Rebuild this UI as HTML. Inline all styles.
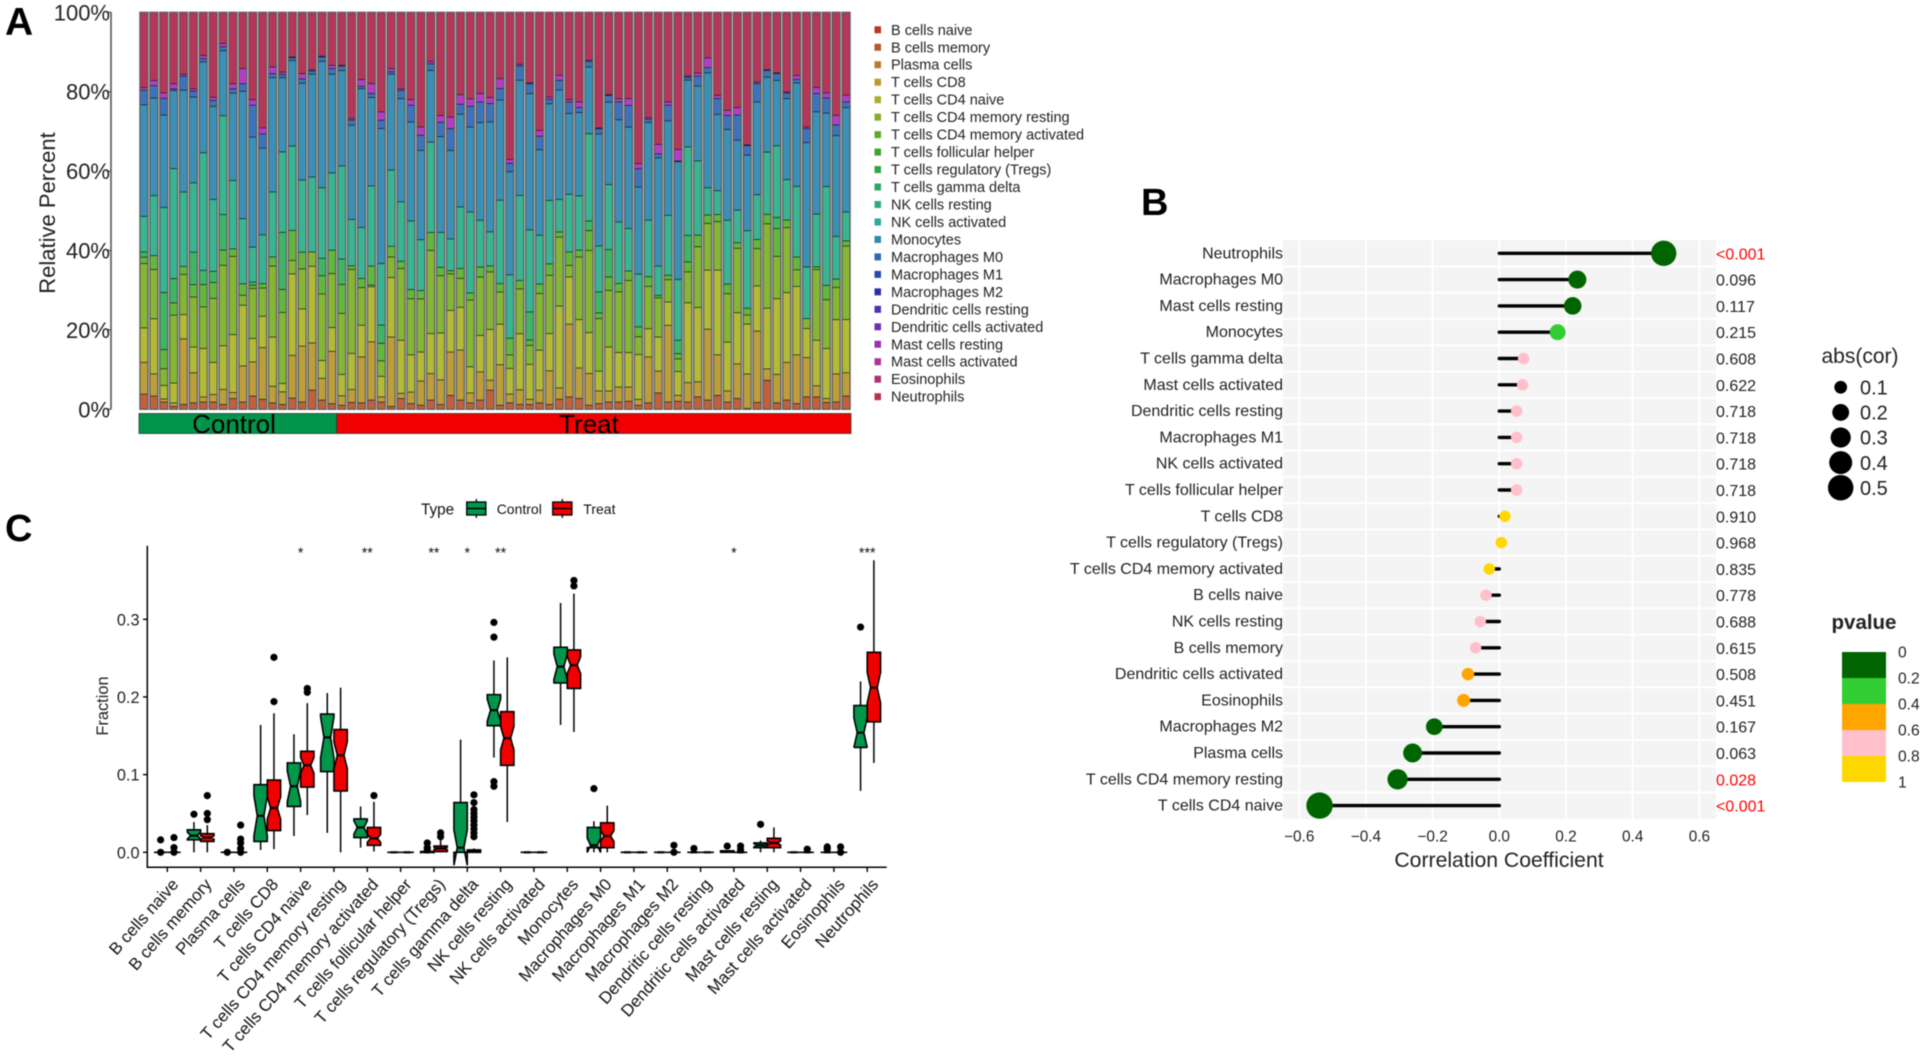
<!DOCTYPE html>
<html lang="en">
<head>
<meta charset="utf-8">
<title>Immune cell infiltration panels</title>
<style>
html,body{margin:0;padding:0;background:#fff;}
svg{display:block;font-family:"Liberation Sans",sans-serif;filter:blur(0.4px);}
</style>
</head>
<body>
<svg id="fig" xmlns="http://www.w3.org/2000/svg" width="1925" height="1057" viewBox="0 0 1925 1057">
  <rect width="1925" height="1057" fill="#fff"/>
  <text x="5" y="35" font-size="39" font-weight="bold">A</text>
  <text x="1141" y="215" font-size="38" font-weight="bold">B</text>
  <text x="5" y="541" font-size="38" font-weight="bold">C</text>
  <g id="panelA"></g>
  <g id="panelB"></g>
  <g id="panelC"></g>
</svg>
<script>
/* ---------- Panel A data: percent per sample, bottom to top ---------- */
const legendLabels = ["B cells naive","B cells memory","Plasma cells","T cells CD8","T cells CD4 naive","T cells CD4 memory resting","T cells CD4 memory activated","T cells follicular helper","T cells regulatory (Tregs)","T cells gamma delta","NK cells resting","NK cells activated","Monocytes","Macrophages M0","Macrophages M1","Macrophages M2","Dendritic cells resting","Dendritic cells activated","Mast cells resting","Mast cells activated","Eosinophils","Neutrophils"];
const percentTicks = [0,20,40,60,80,100];
const groupLabels = ["Control","Treat"];
const groupSizes = [20,52];
const bMemory = [3.9,3.4,1.9,0.8,1.3,1.7,1.9,1.9,1.3,2.8,1.9,3.4,2.6,1.7,1.3,2.9,1.9,4.9,2.4,1.5,1.1,1.8,1.7,2.4,1.9,0.8,2.8,1.5,1.1,2.4,1.3,3.6,2.4,1.7,2.4,4.9,1.1,1.7,1.3,1.3,1.7,1.3,2.6,3.2,2.8,1.1,1.5,1.9,1.9,2.1,1.1,1.7,4.2,1.9,2.1,1.9,3.2,2.4,3.6,1.9,2.8,0.3,1.8,7.4,1.7,2.4,1.5,3.2,3.2,1.8,1.9,3.4];
const tCD8 = [8.0,5.6,0.8,0.9,16.5,7.6,1.3,1.9,3.8,1.5,9.1,8.6,13.0,4.2,3.2,10.8,14.1,11.9,5.5,13.2,2.4,3.3,11.6,14.7,1.3,17.5,1.3,2.9,6.1,6.7,6.2,10.9,12.6,2.5,7.1,2.5,10.2,2.2,3.7,1.3,3.2,8.5,2.9,18.3,7.7,8.0,3.2,2.8,3.8,3.6,1.5,11.6,5.5,19.3,1.5,4.9,3.8,17.9,10.2,2.8,8.7,8.7,18.0,2.9,7.2,9.5,12.3,9.9,2.8,1.0,7.1,5.9];
const cd4Naive = [8.7,13.9,3.4,5.0,6.1,6.5,12.2,8.1,11.0,14.6,15.3,5.9,7.9,12.4,2.1,20.6,9.4,19.3,4.5,6.0,5.4,9.1,8.0,13.9,5.2,15.0,13.4,9.4,7.3,10.1,11.8,10.5,10.8,6.6,9.2,12.8,10.2,6.5,14.1,8.8,10.1,9.4,20.6,11.9,12.2,10.3,5.0,11.1,8.7,8.7,11.3,7.1,8.6,5.9,6.0,20.1,18.7,14.9,21.3,12.3,12.9,12.6,11.4,15.3,19.1,17.6,17.2,7.3,11.5,12.6,13.7,13.4];
const cd4MemResting = [16.2,12.4,4.2,17.1,10.1,12.6,10.5,16.1,20.3,19.7,2.5,12.6,7.1,17.9,17.9,3.4,10.1,3.6,16.8,13.6,15.4,21.2,9.5,0.4,3.9,5.2,18.1,14.1,13.4,21.0,14.4,9.2,7.3,16.8,14.7,14.5,8.1,3.4,11.3,4.8,14.3,14.7,17.4,2.9,15.8,20.7,13.3,14.3,15.3,18.2,4.5,10.7,9.9,5.6,3.2,7.8,15.3,11.8,12.2,12.2,16.2,2.3,9.4,21.3,10.7,16.4,4.2,2.5,17.8,12.3,8.1,18.5];
const cd4MemActivated = [1.6,3.5,4.8,3.1,2.0,3.1,5.6,4.0,3.8,1.9,2.9,0.8,1.1,2.3,5.8,7.6,4.2,0,4.6,5.9,7.3,0.9,2.3,4.8,4.4,2.7,1.8,2.3,2.1,4.5,2.1,0.8,2.5,1.8,2.5,1.5,2.1,4.2,2.1,1.3,2.4,2.9,1.3,3.4,1.7,5.0,1.4,3.4,2.1,2.4,2.5,2.4,0.6,1.1,1.3,2.5,2.9,2.1,1.8,2.4,1.4,1.7,2.3,2.4,7.0,1.9,3.2,0,0.7,3.6,2.1,1.3];
const gammaDelta = [1.3,0,14.4,6.1,0,8.2,3.6,2.8,9.0,0,0,0.8,0,0,14.4,0,0,0,4.4,0,6.4,0,0,0,4.6,0,0,0,0,0,0,0,0,0,0,0,0,0,0,7.1,0,0,0,0,0,2.4,5.3,6.9,0,0,0,0,0,0,3.4,6.7,0,0,0,0,0,0,0,0,2.8,0,0,0,0,0,0,0];
const nkResting = [9.0,15.1,21.4,27.7,18.7,17.5,29.6,18.1,24.9,17.2,16.4,8.8,12.3,16.4,20.3,21.3,18.2,18.9,17.8,19.5,23.5,11.7,12.9,20.2,15.5,19.2,15.0,17.3,12.8,22.8,8.8,8.0,15.5,20.4,11.8,8.6,21.0,16.0,21.4,20.7,12.3,16.0,8.2,14.5,13.7,22.0,11.6,16.4,15.5,10.7,13.3,14.3,7.4,15.1,15.3,22.3,18.7,6.9,6.0,16.1,8.2,19.6,11.3,15.7,18.1,10.2,17.8,13.0,13.3,24.9,10.8,7.3];
const monocytes = [28.1,24.6,23.3,19.7,25.6,21.6,22.9,23.4,16.4,22.0,32.1,27.7,21.8,28.8,18.7,21.6,24.4,25.9,31.9,24.9,24.1,23.8,35.0,22.3,34.0,24.2,26.0,24.9,22.5,18.1,24.1,22.3,23.4,21.4,24.6,27.7,25.2,26.0,29.0,34.3,21.6,24.4,27.6,20.3,21.0,16.8,28.3,20.8,25.8,25.6,22.0,24.6,27.3,23.8,29.7,16.8,18.8,29.0,19.2,22.9,17.6,19.1,23.4,18.9,16.5,20.4,26.0,31.3,25.8,18.5,25.4,26.3];
const macrophagesM0 = [3.6,3.1,4.2,0.4,3.5,1.5,0.8,1.5,1.0,1.1,1.9,8.0,3.6,1.0,0.8,0.7,1.1,0.8,1.1,1.4,1.1,1.3,0.6,1.0,2.1,0.6,2.1,4.2,3.8,1.7,3.6,5.5,2.5,5.2,5.2,4.6,2.9,2.1,3.6,2.5,3.4,1.1,2.4,2.9,1.3,1.4,1.3,1.7,4.5,5.5,4.6,0.8,1.0,3.9,0.2,0.7,2.5,1.3,4.0,3.5,6.3,2.4,4.6,1.7,1.7,1.4,0.9,3.5,4.6,3.8,2.7,1.4];
const mastResting = [0.7,1.3,1.4,1.3,0.5,0.6,0.8,0.8,0.8,1.3,3.8,1.4,1.5,1.7,0.6,0.2,1.3,0.3,0.2,0.8,0.2,0.4,1.7,2.5,2.1,0.8,0.4,1.4,2.1,0.6,1.7,2.9,2.4,1.9,2.1,1.5,2.5,1.0,0.4,0.2,1.5,0.6,1.3,0.6,1.4,0.3,0.2,0.2,0.8,1.7,1.3,0.4,2.4,0.8,2.9,0.3,0.8,2.5,0.8,1.3,1.9,0.2,0.4,0.2,0.2,0.3,1.0,0.4,1.5,1.3,2.4,1.7];
const neutrophils = [18.9,17.1,20.2,17.9,15.5,19.2,10.8,21.3,7.8,17.9,14.1,21.9,29.0,13.7,15.0,11.2,15.4,14.4,11.0,13.3,13.3,26.7,16.9,17.9,25.0,14.1,19.2,21.9,28.8,12.3,25.9,26.3,20.7,21.7,20.4,21.4,16.6,37.0,13.0,17.7,29.7,21.3,15.8,21.9,22.5,12.0,29.1,20.7,21.7,21.7,38.1,26.5,33.2,22.5,34.5,16.0,15.2,11.4,20.8,24.6,23.9,33.4,17.5,14.4,15.2,20.0,15.8,28.8,18.9,20.2,25.9,20.8];

/* ---------- Panel B data ---------- */
const corLabels = ["Neutrophils","Macrophages M0","Mast cells resting","Monocytes","T cells gamma delta","Mast cells activated","Dendritic cells resting","Macrophages M1","NK cells activated","T cells follicular helper","T cells CD8","T cells regulatory (Tregs)","T cells CD4 memory activated","B cells naive","NK cells resting","B cells memory","Dendritic cells activated","Eosinophils","Macrophages M2","Plasma cells","T cells CD4 memory resting","T cells CD4 naive"];
const corValues = [0.493,0.234,0.220,0.175,0.073,0.070,0.052,0.052,0.052,0.052,0.017,0.006,-0.030,-0.040,-0.057,-0.071,-0.094,-0.107,-0.195,-0.260,-0.305,-0.539];
const corPValues = ["<0.001","0.096","0.117","0.215","0.608","0.622","0.718","0.718","0.718","0.718","0.910","0.968","0.835","0.778","0.688","0.615","0.508","0.451","0.167","0.063","0.028","<0.001"];
const corTicks = [-0.6,-0.4,-0.2,0,0.2,0.4,0.6];
const sizeLegendValues = [0.1,0.2,0.3,0.4,0.5];
const pBinLabels = ["0","0.2","0.4","0.6","0.8","1"];

/* ---------- Panel C data: fractions, categories follow legendLabels ---------- */
const fractionTicks = [0,0.1,0.2,0.3];
const controlLow = [0,0,0,0.003,0.021,0.025,0.006,0,0,0,0.122,0,0.164,0,0,0,0,0,0,0,0,0.079];
const controlQ1 = [0,0.016,0,0.014,0.059,0.104,0.019,0,0,0,0.163,0,0.218,0.006,0,0,0,0,0.006,0,0,0.135];
const controlMedian = [0,0.0215,0,0.047,0.085,0.148,0.032,0,0,0.006,0.183,0,0.239,0.009,0,0,0,0.001,0.009,0,0,0.154];
const controlQ3 = [0,0.029,0,0.087,0.115,0.178,0.043,0,0.001,0.064,0.203,0,0.264,0.032,0,0,0,0.002,0.012,0,0,0.189];
const controlHigh = [0,0.039,0,0.164,0.152,0.205,0.059,0,0.001,0.145,0.247,0,0.321,0.040,0,0,0,0.002,0.015,0,0,0.22];
const controlOutliers = [[0.016,0],[0.049],[0],[],[],[],[],[],[0.012,0.006,0.003],[],[0.296,0.277,0.091,0.085],[],[],[0.082],[],[],[0.005],[0.008],[0.036],[],[0.007,0.004],[0.29]];
const treatLow = [0,0,0,0.004,0.048,0,0.001,0,0,0,0.039,0,0.155,0,0,0,0,0,0,0,0,0.115];
const treatQ1 = [0,0.014,0,0.028,0.084,0.079,0.009,0,0.001,0,0.112,0,0.211,0.006,0,0,0,0,0.006,0,0,0.168];
const treatMedian = [0,0.019,0,0.057,0.112,0.125,0.018,0,0.005,0.002,0.147,0,0.241,0.021,0,0,0,0,0.012,0,0,0.212];
const treatQ3 = [0,0.024,0,0.093,0.13,0.158,0.032,0,0.008,0.003,0.181,0,0.2605,0.038,0,0,0,0,0.018,0,0,0.2575];
const treatHigh = [0,0.035,0,0.179,0.192,0.212,0.065,0,0.018,0.005,0.251,0,0.333,0.06,0,0,0,0,0.032,0,0,0.376];
const treatOutliers = [[0.019,0.006,0],[0.073,0.05,0.042],[0.035,0.017,0.012,0.005,0],[0.251,0.194],[0.211,0.206],[],[0.073],[],[0.025,0.02],[0.074,0.064,0.055,0.05,0.045,0.04,0.035,0.03,0.025,0.02],[],[],[0.35,0.343],[],[],[0.009,0],[],[0.008,0.003],[],[0.004],[0.007,0],[]];
const significance = ["","","","","*","","**","","**","*","**","","","","","","","*","","","",  "***"];

const NS = "http://www.w3.org/2000/svg";
function add(parent, tag, geom, text) {
  const el = document.createElementNS(NS, tag);
  for (const k in geom) el.setAttribute(k, geom[k]);
  if (text !== undefined) el.textContent = text;
  parent.appendChild(el);
  return el;
}
const slug = s => s.toLowerCase().replace(/[^a-z0-9]+/g, '-').replace(/^-|-$/g, '');

/* ================= PANEL A ================= */
(function () {
  const root = document.getElementById('panelA');
  const stack = [
    [bMemory, '#c2603c'], [tCD8, '#bd9e38'], [cd4Naive, '#b3bb35'], [cd4MemResting, '#85b733'],
    [cd4MemActivated, '#62b83c'], [gammaDelta, '#3fb566'], [nkResting, '#38b592'], [monocytes, '#3a90b6'],
    [macrophagesM0, '#3d73bd'], [mastResting, '#b63cc8'], [neutrophils, '#b8355a']
  ];
  const stackNames = ['b-memory','t-cd8','cd4-naive','cd4-memory-resting','cd4-memory-activated','gamma-delta','nk-resting','monocytes','macrophages-m0','mast-resting','neutrophils'];
  const legendColors = ['#b8342c','#b8552c','#b87a2c','#b89d2c','#a9b12c','#84ae2c','#5eaa2c','#3ba52c','#2ca83f','#2ca860','#2ca988','#2ca8a0','#2c8cb0','#2c68b0','#2c48b0','#2c30a8','#5030b0','#7030b0','#9c30b0','#b030a0','#b03078','#b83050'];
  const nBars = bMemory.length;
  const x0 = 139, x1 = 851, pitch = (x1 - x0) / nBars, barW = 8;
  const yA = v => 409.3 - v * 3.97;
  const xA = i => x0 + (i + 0.5) * pitch;

  for (let i = 0; i < nBars; i++) {
    const total = stack.reduce((s, c) => s + c[0][i], 0);
    let cum = 0;
    const bar = add(root, 'g', {});
    
    
    stack.forEach((c, k) => {
      const v = c[0][i] / total * 100;
      const top = yA(cum + v), bottom = yA(cum);
      cum += v;
      if (v <= 0) return;
      const seg = add(bar, 'rect', { x: xA(i) - barW / 2, y: top, width: barW, height: bottom - top, fill: c[1] });
      
      
      if (k < stack.length - 1) {
        const sep = add(bar, 'line', { x1: xA(i) - barW / 2, x2: xA(i) + barW / 2, y1: top, y2: top, stroke: '#111a14', 'stroke-width': 1.4 });
        
        
      }
    });
    const frame = add(bar, 'rect', { x: xA(i) - barW / 2, y: yA(100), width: barW, height: yA(0) - yA(100), fill: 'none', stroke: '#5c5c5c', 'stroke-width': 1.3 });
    
    
  }

  const axis = add(root, 'line', { x1: 111, x2: 111, y1: yA(100), y2: yA(0), stroke: '#555', 'stroke-width': 1.6 });
  
  
  percentTicks.forEach(t => {
    const tick = add(root, 'line', { x1: 106.5, x2: 111, y1: yA(t), y2: yA(t), stroke: '#555', 'stroke-width': 1.3 });
    
    
    const lab = add(root, 'text', { x: 110, y: yA(t) + 8, 'text-anchor': 'end', 'font-size': 22, fill: '#222' }, t + '%');
    
    
  });
  const yt = add(root, 'text', { transform: 'translate(55,213) rotate(-90)', 'text-anchor': 'middle', 'font-size': 22, fill: '#222' }, 'Relative Percent');
  
  

  const groupFill = ['#00954a', '#f00000'];
  const groupTextX = [234, 589];
  let start = 0;
  groupSizes.forEach((n, g) => {
    const r = add(root, 'rect', { x: x0 + start * pitch, y: 413.5, width: n * pitch, height: 20, fill: groupFill[g], stroke: '#2b3a30', 'stroke-width': 0.8 });
    
    
    const t = add(root, 'text', { x: groupTextX[g], y: 433, 'text-anchor': 'middle', 'font-size': 26, fill: '#000' }, groupLabels[g]);
    
    
    start += n;
  });

  legendLabels.forEach((name, i) => {
    const y = 29.8 + i * 17.47;
    const sw = add(root, 'rect', { x: 874.5, y: y - 3.5, width: 6.5, height: 7, fill: legendColors[i] });
    
    
    const t = add(root, 'text', { x: 891, y: y + 5, 'font-size': 14.5, fill: '#222' }, name);
    
    
  });
})();

/* ================= PANEL B ================= */
(function () {
  const root = document.getElementById('panelB');
  const xB = v => 1499.3 + v * 333.5;
  const rowY = i => 253.3 + i * 26.3;
  const diam = c => Math.max(11.5, Math.sqrt(40 + 1220 * Math.abs(c)));
  const pColors = ['#006400', '#32cd32', '#ffa500', '#ffc0cb', '#ffd700'];
  const pColor = s => {
    const p = s.charAt(0) === '<' ? 0 : parseFloat(s);
    return pColors[Math.min(4, Math.floor(p / 0.2))];
  };
  const bg = add(root, 'rect', { x: 1283, y: 240, width: 433, height: 579, fill: '#f4f4f4' });
  
  
  corLabels.forEach((_, i) => {
    if (i === 0) return;
    const y = rowY(i) - 13.15;
    const g = add(root, 'line', { x1: 1283, x2: 1716, y1: y, y2: y, stroke: '#fff', 'stroke-width': 2 });
    
    
  });
  corTicks.forEach(t => {
    const g = add(root, 'line', { x1: xB(t), x2: xB(t), y1: 240, y2: 819, stroke: '#fff', 'stroke-width': 2 });
    
    
    const lab = add(root, 'text', { x: xB(t), y: 841.5, 'text-anchor': 'middle', 'font-size': 15.4, fill: '#222' }, t.toFixed(1).replace('-', '\u2212'));
    
    
  });
  corLabels.forEach((name, i) => {
    const y = rowY(i), c = corValues[i], p = corPValues[i];
    const t = add(root, 'text', { x: 1283, y: y + 5, 'text-anchor': 'end', 'font-size': 16, fill: '#222' }, name);
    
    
    const stem = add(root, 'line', { x1: xB(0), x2: xB(c), y1: y, y2: y, stroke: '#000', 'stroke-width': 3.4, 'stroke-linecap': 'round' });
    
    
    const dot = add(root, 'circle', { cx: xB(c), cy: y, r: diam(c) / 2, fill: pColor(p) });
    
    
    const sig = p.charAt(0) === '<' || parseFloat(p) < 0.05;
    const pt = add(root, 'text', { x: 1716, y: y + 6, 'font-size': 16, fill: sig ? '#f00' : '#222' }, p);
    
    
  });
  const title = add(root, 'text', { x: 1499, y: 867, 'text-anchor': 'middle', 'font-size': 21.2, fill: '#222' }, 'Correlation Coefficient');
  
  

  const st = add(root, 'text', { x: 1860, y: 363, 'text-anchor': 'middle', 'font-size': 21, fill: '#222' }, 'abs(cor)');
  
  
  sizeLegendValues.forEach((v, i) => {
    const y = 387.3 + i * 25.1;
    const c = add(root, 'circle', { cx: 1840.7, cy: y, r: diam(v) / 2, fill: '#000' });
    
    
    const t = add(root, 'text', { x: 1860, y: y + 7.2, 'font-size': 20, fill: '#222' }, v.toFixed(1));
    
    
  });

  const pt = add(root, 'text', { x: 1864, y: 629, 'text-anchor': 'middle', 'font-size': 20.5, 'font-weight': 'bold', fill: '#222' }, 'pvalue');
  
  
  pColors.forEach((col, i) => {
    const r = add(root, 'rect', { x: 1842, y: 652 + i * 26, width: 44, height: 26, fill: col });
    
    
  });
  pBinLabels.forEach((s, i) => {
    const t = add(root, 'text', { x: 1898, y: 657.5 + i * 26, 'font-size': 15.6, fill: '#222' }, s);
    
    
  });
})();

/* ================= PANEL C ================= */
(function () {
  const root = document.getElementById('panelC');
  const yC = v => 852.3 - v * 776.7;
  const xC = i => 167.3 + i * 33.33;
  const boxW = 13.3, dodge = 6.67;
  const GREEN = '#00974b', RED = '#f00000';

  function drawBox(parent, cx, low, q1, med, q3, high, outs, fill, n) {
    const ext = 1.58 * (q3 - q1) / Math.sqrt(n);
    const a = cx - boxW / 2, b = cx + boxW / 2, hw = boxW / 4;
    const w1 = add(parent, 'line', { x1: cx, x2: cx, y1: yC(q3), y2: yC(high), stroke: '#000', 'stroke-width': 1.5 });
    
    
    const w2 = add(parent, 'line', { x1: cx, x2: cx, y1: yC(q1), y2: yC(low), stroke: '#000', 'stroke-width': 1.5 });
    
    
    const nl = med - ext, nu = med + ext;
    const d = ['M', a, yC(q1), 'L', a, yC(nl), 'L', cx - hw, yC(med), 'L', a, yC(nu), 'L', a, yC(q3), 'L', b, yC(q3), 'L', b, yC(nu), 'L', cx + hw, yC(med), 'L', b, yC(nl), 'L', b, yC(q1), 'Z'].join(' ');
    const box = add(parent, 'path', { d: d, fill: fill, stroke: '#000', 'stroke-width': 1.6, 'stroke-linejoin': 'miter' });
    
    
    const m = add(parent, 'line', { x1: cx - hw, x2: cx + hw, y1: yC(med), y2: yC(med), stroke: '#000', 'stroke-width': 2.2 });
    
    
    outs.forEach(o => {
      const p = add(parent, 'circle', { cx: cx, cy: yC(o), r: 3.6, fill: '#000' });
      
      
    });
  }

  legendLabels.forEach((name, i) => {
    const g = add(root, 'g', {});
    
    
    drawBox(g, xC(i) - dodge, controlLow[i], controlQ1[i], controlMedian[i], controlQ3[i], controlHigh[i], controlOutliers[i], GREEN, groupSizes[0]);
    drawBox(g, xC(i) + dodge, treatLow[i], treatQ1[i], treatMedian[i], treatQ3[i], treatHigh[i], treatOutliers[i], RED, groupSizes[1]);
    const tick = add(root, 'line', { x1: xC(i), x2: xC(i), y1: 867.3, y2: 872, stroke: '#000', 'stroke-width': 1.4 });
    
    
    const lab = add(root, 'text', { transform: 'translate(' + (xC(i) + 12) + ',885) rotate(-48.5)', 'text-anchor': 'end', 'font-size': 16.9, fill: '#111' }, name);
    
    
    if (significance[i]) {
      const s = add(root, 'text', { x: xC(i), y: 557.5, 'text-anchor': 'middle', 'font-size': 14.3, fill: '#111' }, significance[i]);
      
      
    }
  });

  const yAxis = add(root, 'line', { x1: 147.3, x2: 147.3, y1: 545.7, y2: 868, stroke: '#000', 'stroke-width': 1.5 });
  
  
  const xAxis = add(root, 'line', { x1: 146.5, x2: 886.7, y1: 867.3, y2: 867.3, stroke: '#000', 'stroke-width': 1.5 });
  
  
  fractionTicks.forEach(t => {
    const tk = add(root, 'line', { x1: 143, x2: 147.3, y1: yC(t), y2: yC(t), stroke: '#000', 'stroke-width': 1.4 });
    
    
    const l = add(root, 'text', { x: 139.5, y: yC(t) + 6, 'text-anchor': 'end', 'font-size': 16.3, fill: '#222' }, t.toFixed(1));
    
    
  });
  const yt = add(root, 'text', { transform: 'translate(108,706) rotate(-90)', 'text-anchor': 'middle', 'font-size': 16.4, fill: '#222' }, 'Fraction');
  
  

  const lt = add(root, 'text', { x: 421, y: 514.5, 'font-size': 15.3, fill: '#111' }, 'Type');
  
  
  [[466.7, GREEN, 496.7, groupLabels[0]], [552.7, RED, 583.3, groupLabels[1]]].forEach(k => {
    const wh = add(root, 'line', { x1: k[0] + 9.6, x2: k[0] + 9.6, y1: 499, y2: 518, stroke: '#000', 'stroke-width': 1.3 });
    
    
    const b = add(root, 'rect', { x: k[0], y: 502, width: 19.2, height: 13, fill: k[1], stroke: '#000', 'stroke-width': 1.3 });
    
    
    const m = add(root, 'line', { x1: k[0], x2: k[0] + 19.2, y1: 508.5, y2: 508.5, stroke: '#000', 'stroke-width': 1.5 });
    
    
    const t = add(root, 'text', { x: k[2], y: 514, 'font-size': 14, fill: '#111' }, k[3]);
    
    
  });
})();
</script>
</body>
</html>
